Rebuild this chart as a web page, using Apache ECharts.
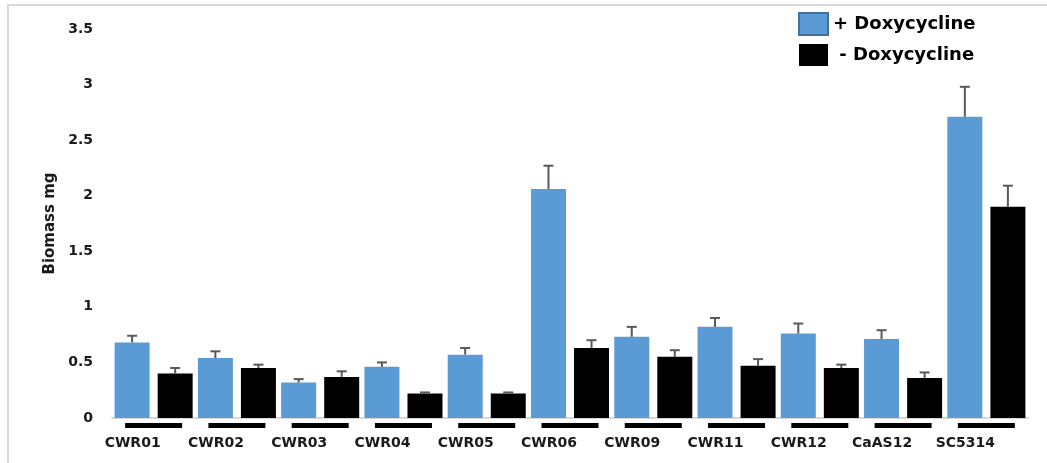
<!DOCTYPE html>
<html>
<head>
<meta charset="utf-8">
<script src="https://cdn.jsdelivr.net/npm/echarts@6/dist/echarts.min.js"></script>
<style>
  html, body { margin: 0; padding: 0; background: #fff; }
  #bar { width: 1047px; height: 463px; }
</style>
</head>
<body>
<div id="bar"></div>
<script>
// strains on the x axis
const strains = ['CWR01', 'CWR02', 'CWR03', 'CWR04', 'CWR05', 'CWR06', 'CWR09', 'CWR11', 'CWR12', 'CaAS12', 'SC5314'];
// biomass (mg) with doxycycline, and the upper error amount
const plusDoxy = [0.68, 0.54, 0.32, 0.46, 0.57, 2.06, 0.73, 0.82, 0.76, 0.71, 2.71];
const plusErr = [0.06, 0.06, 0.03, 0.04, 0.06, 0.21, 0.09, 0.08, 0.09, 0.08, 0.27];
// biomass (mg) without doxycycline
const minusDoxy = [0.40, 0.45, 0.37, 0.22, 0.22, 0.63, 0.55, 0.47, 0.45, 0.36, 1.90];
const minusErr = [0.05, 0.03, 0.05, 0.01, 0.01, 0.07, 0.06, 0.06, 0.03, 0.05, 0.19];
// y ticks
const yTicks = ['0', '0.5', '1', '1.5', '2', '2.5', '3', '3.5'];

const BAR_W = 35;
const BAR_GAP = 0.23;
const font = 'DejaVu Sans';

// error bar drawn above a bar, shifted to the bar's slot in the group
function errorBar(shift) {
  return function (params, api) {
    const x = api.value(0);
    const top = api.coord([x, api.value(1) + api.value(2)]);
    const base = api.coord([x, api.value(1)]);
    const off = shift * (BAR_W * (1 + BAR_GAP)) / 2;
    const cx = top[0] + off;
    const style = { stroke: '#595959', lineWidth: 2 };
    return {
      type: 'group',
      children: [
        { type: 'line', shape: { x1: cx, y1: base[1], x2: cx, y2: top[1] }, style: style },
        { type: 'line', shape: { x1: cx - 5, y1: top[1], x2: cx + 5, y2: top[1] }, style: style }
      ]
    };
  };
}

const myChart = echarts.init(document.getElementById('bar'));
myChart.setOption({
  animation: false,
  graphic: [
    {
      type: 'rect',
      shape: { x: 8, y: 5, width: 1200, height: 600 },
      style: { fill: 'none', stroke: '#d9d9d9', lineWidth: 2 },
      silent: true
    }
  ],
  legend: {
    orient: 'vertical',
    left: 793,
    top: 7,
    itemWidth: 29,
    itemHeight: 22,
    itemGap: 8,
    icon: 'rect',
    textStyle: { fontFamily: font, fontWeight: 'bold', fontSize: 18, color: '#000' },
    data: [
      { name: '+ Doxycycline', itemStyle: { borderColor: '#41719c', borderWidth: 2 } },
      { name: ' - Doxycycline' }
    ]
  },
  grid: {
    left: 112,
    right: 19,
    top: 29,
    bottom: 45
  },
  xAxis: {
    type: 'category',
    data: strains,
    axisTick: { show: false },
    axisLine: { lineStyle: { color: '#d9d9d9', width: 2 } },
    axisLabel: {
      interval: 0,
      margin: 5,
      formatter: function (v) {
        return '{u|}\n{t|' + v + '}';
      },
      rich: {
        u: { width: 57, height: 5, backgroundColor: '#000', align: 'center' },
        t: {
          fontFamily: font,
          fontWeight: 'bold',
          fontSize: 14,
          color: '#1a1a1a',
          lineHeight: 16,
          padding: [14, 42, 0, 0],
          align: 'center'
        }
      }
    }
  },
  yAxis: {
    type: 'value',
    min: 0,
    max: 3.5,
    interval: 0.5,
    name: 'Biomass mg',
    nameLocation: 'middle',
    nameGap: 52,
    nameTextStyle: { fontFamily: font, fontWeight: 'bold', fontSize: 15, color: '#1a1a1a' },
    axisLine: { show: false },
    axisTick: { show: false },
    splitLine: { show: false },
    axisLabel: {
      margin: 19,
      fontFamily: font,
      fontWeight: 'bold',
      fontSize: 14,
      color: '#1a1a1a',
      formatter: function (v) {
        return yTicks[Math.round(v / 0.5)];
      }
    }
  },
  series: [
    {
      name: '+ Doxycycline',
      type: 'bar',
      barWidth: BAR_W,
      barGap: (BAR_GAP * 100) + '%',
      data: plusDoxy,
      itemStyle: { color: '#5B9BD5' }
    },
    {
      name: ' - Doxycycline',
      type: 'bar',
      barWidth: BAR_W,
      data: minusDoxy,
      itemStyle: { color: '#000' }
    },
    {
      name: 'err+',
      type: 'custom',
      renderItem: errorBar(-1),
      data: plusDoxy.map((v, i) => [i, v, plusErr[i]]),
      z: 3
    },
    {
      name: 'err-',
      type: 'custom',
      renderItem: errorBar(1),
      data: minusDoxy.map((v, i) => [i, v, minusErr[i]]),
      z: 3
    }
  ]
});
</script>
</body>
</html>
